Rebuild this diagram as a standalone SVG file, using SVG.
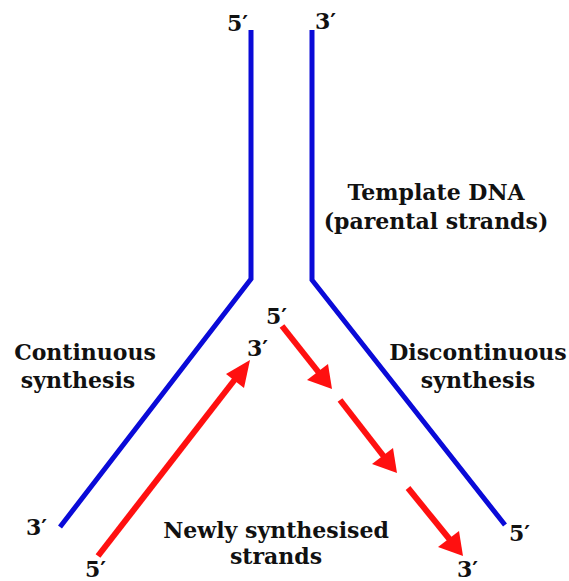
<svg xmlns="http://www.w3.org/2000/svg" width="569" height="581" viewBox="0 0 569 581">
<style>
.dna{fill:none;stroke:#0a0ad8;stroke-width:5;stroke-linejoin:miter}
.red{stroke:#ff1010;stroke-width:6;fill:none}
.head{fill:#ff1010}
text{font-family:"DejaVu Serif","Liberation Serif",serif;font-size:22px;font-weight:bold;fill:#111}
.lbl{text-anchor:middle}
.end{font-size:22px}
</style>
<rect width="569" height="581" fill="#fff"/>
<g id="connectors">
<polyline id="left-template" class="dna" points="251,30 251,279 60,527"/>
<polyline id="right-template" class="dna" points="312,30 312,280 505,525"/>
<g id="leading">
<line class="red" x1="98" y1="556" x2="236" y2="378"/>
<polygon class="head" points="250,360 244,388 226,374"/>
</g>
<g id="lagging1">
<line class="red" x1="282" y1="326" x2="320" y2="374"/>
<polygon class="head" points="332,389 307,380 328,364"/>
</g>
<g id="lagging2">
<line class="red" x1="340" y1="400" x2="385" y2="458"/>
<polygon class="head" points="397,473 372,464 393,448"/>
</g>
<g id="lagging3">
<line class="red" x1="408" y1="488" x2="451" y2="541"/>
<polygon class="head" points="463,556 438,547 459,531"/>
</g>
</g>
<g id="labels">
<text class="end" x="227" y="31">5′</text>
<text class="end" x="315" y="29">3′</text>
<text class="lbl" x="436" y="200">Template DNA</text>
<text class="lbl" x="436" y="229">(parental strands)</text>
<text class="lbl" x="85" y="360">Continuous</text>
<text class="lbl" x="78" y="388">synthesis</text>
<text class="lbl" x="478" y="360">Discontinuous</text>
<text class="lbl" x="478" y="388">synthesis</text>
<text class="end" x="266" y="324">5′</text>
<text class="end" x="247" y="356">3′</text>
<text class="end" x="26" y="535">3′</text>
<text class="end" x="85" y="577">5′</text>
<text class="end" x="509" y="541">5′</text>
<text class="end" x="457" y="577">3′</text>
<text class="lbl" x="276" y="538">Newly synthesised</text>
<text class="lbl" x="276" y="564">strands</text>
</g>
</svg>
